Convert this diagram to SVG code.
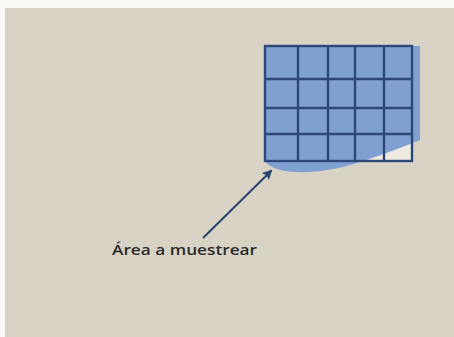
<svg xmlns="http://www.w3.org/2000/svg" width="454" height="337" viewBox="0 0 454 337">
  <defs>
    <style>
      .grid { fill: none; stroke: #2c4878; stroke-width: 2.4; }
      .lbl { font-family: "Open Sans", "Liberation Sans", sans-serif; font-size: 15px; fill: #2b2b2b; font-weight: 600; }
      .conn { stroke: #2a4470; stroke-width: 2; fill: none; }
    </style>
    <marker id="arrow" markerWidth="10" markerHeight="10" refX="8" refY="5" orient="auto" markerUnits="userSpaceOnUse">
      <path d="M0,0 L10,5 L0,10 L2,5 Z" fill="#2a4470"/>
    </marker>
  </defs>
  <rect x="0" y="0" width="454" height="337" fill="#fbfaf6"/>
  <rect x="5" y="8" width="449" height="329" fill="#d9d3c6"/>

  <g id="sample-grid">
    <rect x="265" y="46" width="147" height="115" fill="#eeeae2"/>
    <path d="M265,46 L420,46 L420,140 C405,146 390,152 372,158 C345,168 320,173 295,172 C278,171 268,167 265,160 Z" fill="#80a0d2"/>
    <rect class="grid" x="265" y="46" width="147" height="115"/>
    <line class="grid" x1="298" y1="46" x2="298" y2="161"/>
    <line class="grid" x1="328" y1="46" x2="328" y2="161"/>
    <line class="grid" x1="355" y1="46" x2="355" y2="161"/>
    <line class="grid" x1="384" y1="46" x2="384" y2="161"/>
    <line class="grid" x1="265" y1="79" x2="412" y2="79"/>
    <line class="grid" x1="265" y1="108" x2="412" y2="108"/>
    <line class="grid" x1="265" y1="134" x2="412" y2="134"/>
  </g>

  <g id="connectors">
    <line class="conn" x1="203" y1="238" x2="271" y2="171" marker-end="url(#arrow)"/>
  </g>

  <g id="label">
    <text class="lbl" x="112" y="255" textLength="145" lengthAdjust="spacingAndGlyphs">Área a muestrear</text>
  </g>
</svg>
